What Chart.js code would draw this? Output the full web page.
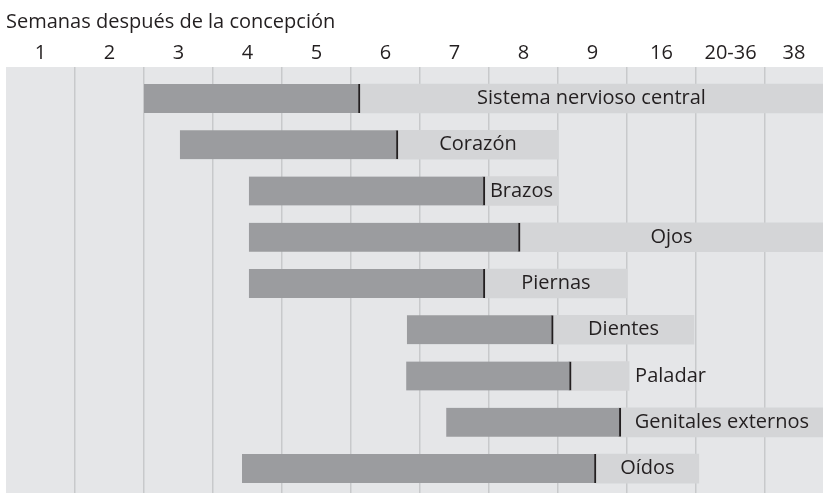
<!DOCTYPE html>
<html>
<head>
<meta charset="utf-8">
<script src="https://cdn.jsdelivr.net/npm/chart.js@4.4.1/dist/chart.umd.min.js"></script>
<style>
  html, body { margin: 0; padding: 0; background: #fff; }
  #wrap { width: 823px; height: 494px; }
</style>
</head>
<body>
<div id="wrap"><canvas id="chart"></canvas></div>
<script>
// Week columns along the top (each column is one unit on the x scale)
const weeks = ['1', '2', '3', '4', '5', '6', '7', '8', '9', '16', '20-36', '38'];

// Organs, top to bottom
const organs = ['Sistema nervioso central', 'Corazón', 'Brazos', 'Ojos', 'Piernas',
  'Dientes', 'Paladar', 'Genitales externos', 'Oídos'];

// Period start, end of the highly sensitive part, end of the less sensitive part (column units)
const periodStart = [2.0, 2.52, 3.52, 3.52, 3.52, 5.81, 5.80, 6.38, 3.42];
const majorEnd    = [5.13, 5.68, 6.94, 7.45, 6.94, 7.93, 8.19, 8.91, 8.55];
const minorEnd    = [11.84, 8.0, 8.0, 11.84, 9.0, 9.97, 9.03, 11.84, 10.04];

const X_MAX = 11.84;
const TEXT = '#231f20';
const FONT = '"Open Sans", "DejaVu Sans", sans-serif';

// Plot background
const plotBackground = {
  id: 'plotBackground',
  beforeDraw(chart) {
    const { ctx, chartArea: a } = chart;
    ctx.save();
    ctx.fillStyle = '#e5e6e8';
    ctx.fillRect(a.left, a.top, a.right - a.left, a.bottom - a.top);
    ctx.restore();
  }
};

// Organ names, centred in the light part or placed after it if they do not fit
const organLabels = {
  id: 'organLabels',
  afterDatasetsDraw(chart) {
    const { ctx } = chart;
    const bars = chart.getDatasetMeta(1).data;
    ctx.save();
    ctx.font = '20px ' + FONT;
    ctx.fillStyle = TEXT;
    ctx.textBaseline = 'middle';
    bars.forEach((bar, i) => {
      const left = Math.min(bar.x, bar.base);
      const right = Math.max(bar.x, bar.base);
      const w = ctx.measureText(organs[i]).width;
      if (w + 8 > right - left) {
        ctx.textAlign = 'left';
        ctx.fillText(organs[i], right + 6, bar.y);
      } else {
        ctx.textAlign = 'center';
        ctx.fillText(organs[i], (left + right) / 2, bar.y);
      }
    });
    ctx.restore();
  }
};

const ctx = document.getElementById('chart').getContext('2d');
new Chart(ctx, {
  type: 'bar',
  data: {
    datasets: [
      {
        data: organs.map((o, i) => ({ y: i + 1, x: [periodStart[i], majorEnd[i]] })),
        backgroundColor: '#9b9c9f',
        borderColor: '#231f20',
        borderWidth: { left: 0, top: 0, bottom: 0, right: 2 },
        borderSkipped: false
      },
      {
        data: organs.map((o, i) => ({ y: i + 1, x: [majorEnd[i], minorEnd[i]] })),
        backgroundColor: '#d4d5d7',
        borderWidth: 0
      }
    ]
  },
  options: {
    indexAxis: 'y',
    responsive: true,
    maintainAspectRatio: false,
    animation: false,
    grouped: false,
    barThickness: 29,
    layout: { padding: { left: 6, right: 0, top: 0, bottom: 1 } },
    scales: {
      x: {
        type: 'linear',
        position: 'top',
        min: 0,
        max: X_MAX,
        weight: 0,
        afterBuildTicks: (scale) => {
          scale.ticks = weeks.map((w, i) => ({ value: i }));
        },
        afterFit: (scale) => { scale.height = 0; },
        ticks: { display: false },
        border: { display: false },
        grid: {
          drawTicks: false,
          lineWidth: 1.5,
          color: (c) => (c.index === 0 ? 'rgba(0,0,0,0)' : '#c8c9cb')
        }
      },
      xWeeks: {
        type: 'linear',
        position: 'top',
        min: 0,
        max: X_MAX,
        weight: 1,
        afterBuildTicks: (scale) => {
          // centre of each column, clipped to the visible range
          scale.ticks = weeks.map((w, i) => ({ value: (i + Math.min(i + 1, X_MAX)) / 2 }));
        },
        afterFit: (scale) => { scale.height = 33; },
        ticks: {
          autoSkip: false,
          maxRotation: 0,
          padding: 2,
          color: TEXT,
          font: { family: FONT, size: 20 },
          callback: (v, i) => weeks[i]
        },
        border: { display: false },
        grid: { display: false, drawTicks: false }
      },
      y: {
        type: 'linear',
        reverse: true,
        offset: false,
        min: 0.32,
        max: 9.528,
        display: false
      }
    },
    plugins: {
      legend: { display: false },
      tooltip: { enabled: false },
      title: {
        display: true,
        text: 'Semanas después de la concepción',
        align: 'start',
        color: TEXT,
        font: { family: FONT, size: 20, weight: 'normal' },
        padding: { top: 10, bottom: 0 }
      }
    }
  },
  plugins: [plotBackground, organLabels]
});
</script>
</body>
</html>
